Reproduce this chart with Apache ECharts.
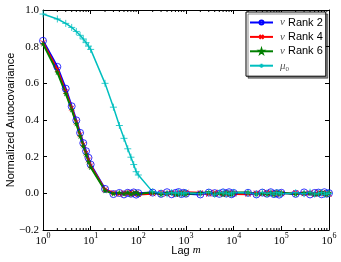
<!DOCTYPE html>
<html><head><meta charset="utf-8">
<script src="https://cdn.jsdelivr.net/npm/echarts@6/dist/echarts.min.js"></script>
<style>html,body{margin:0;padding:0;background:#fff}#c{width:341px;height:262px}</style>
</head><body><div id="c"></div>
<script>
const lags = [1,2,3,4,5,6,7,8,9,10,
  20,30,40,50,60,70,80,90,100,
  200,300,400,500,600,700,800,900,1000,
  2000,3000,4000,5000,6000,7000,8000,9000,10000,
  20000,30000,40000,50000,60000,70000,80000,90000,100000,
  200000,300000,400000,500000,600000,700000,800000,900000,1000000];
const nuRank2 = [0.832,0.690,0.571,0.475,0.398,0.330,0.274,0.230,0.194,0.157,
  0.024,-0.004,0.002,-0.006,0.003,-0.002,0.005,-0.007,0.001,
  0.004,-0.003,0.006,-0.005,0.002,0.007,-0.004,0.003,-0.002,
  -0.006,0.004,0.001,-0.003,0.005,-0.001,0.006,-0.005,0.002,
  0.003,-0.006,0.004,-0.002,0.006,-0.004,0.001,-0.007,0.003,
  -0.003,0.005,-0.006,0.002,0.004,-0.005,0.006,-0.002,0.001];
const nuRank4 = [0.822,0.675,0.555,0.465,0.388,0.320,0.265,0.220,0.182,0.150,
  0.020,0.003,-0.005,0.004,-0.003,0.006,-0.004,0.002,-0.006,
  -0.002,0.005,-0.004,0.003,-0.006,0.001,0.004,-0.005,0.006,
  0.003,-0.005,0.006,-0.002,0.001,-0.006,0.004,0.002,-0.003,
  -0.005,0.002,-0.003,0.006,-0.001,0.004,-0.006,0.005,-0.002,
  0.004,-0.002,0.003,-0.005,0.006,0.001,-0.004,0.003,-0.006];
const nuRank6 = [0.815,0.660,0.544,0.456,0.380,0.312,0.258,0.212,0.172,0.142,
  0.015,-0.002,0.004,-0.003,0.005,-0.005,0.002,0.006,-0.004,
  0.006,-0.006,0.002,0.004,-0.003,-0.005,0.003,0.001,-0.004,
  0.002,0.006,-0.004,0.003,-0.006,0.005,-0.002,-0.004,0.004,
  0.005,-0.003,0.001,-0.005,0.003,-0.006,0.006,-0.002,0.004,
  -0.005,0.003,0.001,-0.004,-0.002,0.006,0.002,-0.006,0.004];
const mu0 = [0.978,0.951,0.927,0.905,0.883,0.862,0.842,0.822,0.803,0.785,
  0.600,0.470,0.370,0.300,0.243,0.197,0.157,0.118,0.100,
  0.008,0.002,-0.003,0.004,-0.002,0.005,-0.004,0.001,0.003,
  -0.002,0.004,-0.005,0.002,0.006,-0.003,0.001,-0.004,0.005,
  0.002,-0.004,0.005,-0.001,0.003,-0.005,0.004,0.002,-0.003,
  0.003,-0.002,0.006,-0.004,0.001,0.004,-0.006,0.002,-0.001];
const yTicks = [-0.2,0.0,0.2,0.4,0.6,0.8,1.0];
const xMinorTicks = [];
[1,10,100,1000,10000,100000].forEach(d=>{for(let k=2;k<=9;k++) xMinorTicks.push(k*d);});
const seriesNames = ['nu2','nu4','nu6','mu0'];

const pair = arr => lags.map((l,i)=>[l,arr[i]]);
const chart = echarts.init(document.getElementById('c'), null, {renderer:'canvas'});
const serifFont = 'Liberation Serif';
const sansFont = 'Liberation Sans';
const crossPath = 'path://M0,0L10,10M10,0L0,10';
const plusPath = 'path://M5,0L5,10M0,5L10,5';
const starPath = 'path://M50,0L61,35L98,35L68,57L79,91L50,70L21,91L32,57L2,35L39,35Z';
const expLabel = v => { const e = Math.round(Math.log10(v)); return '{b|10}{s|' + e + '}'; };
const rich = {
  b:{fontFamily:serifFont,fontSize:11,color:'#000',lineHeight:15,verticalAlign:'bottom'},
  s:{fontFamily:serifFont,fontSize:8,color:'#000',lineHeight:15,verticalAlign:'top'}
};
const legendRich = {
  i:{fontFamily:serifFont,fontStyle:'italic',fontSize:11,color:'#555'},
  t:{fontFamily:sansFont,fontSize:11,color:'#000'},
  sub:{fontFamily:serifFont,fontSize:7,color:'#555',verticalAlign:'bottom',lineHeight:13}
};
const legendText = {nu2:'{i|ν} {t|Rank 2}', nu4:'{i|ν} {t|Rank 4}', nu6:'{i|ν} {t|Rank 6}', mu0:'{i|μ}{sub|0}'};
const noZero = {show:true,onZero:false,lineStyle:{color:'#000',width:1}};

const option = {
  animation:false,
  backgroundColor:'#fff',
  grid:{left:43,right:12,top:10,bottom:32,containLabel:false,outerBoundsMode:'none'},
  legend:{
    data:seriesNames, orient:'vertical', left:246, top:12,
    itemWidth:23, itemHeight:5, itemGap:1.4, padding:[4,3,4,3],
    borderColor:'#000', borderWidth:1, backgroundColor:'#fff',
    shadowColor:'rgba(0,0,0,0.45)', shadowOffsetX:2, shadowOffsetY:2, shadowBlur:0,
    formatter: n => legendText[n],
    textStyle:{rich:legendRich, fontSize:11, lineHeight:13, padding:[0,0,0,2]}
  },
  xAxis:[{
    type:'log', logBase:10, min:1, max:1000000,
    name:'Lag {m|m}', nameLocation:'middle', nameGap:15, nameMoveOverlap:false,
    nameTextStyle:{fontFamily:sansFont,fontSize:11,color:'#000',
      rich:{m:{fontFamily:serifFont,fontStyle:'italic',fontSize:11,color:'#000'}}},
    axisLine:noZero,
    axisTick:{inside:true,length:4,lineStyle:{color:'#000'}},
    axisLabel:{formatter:expLabel, rich:rich, margin:2},
    splitLine:{show:false}
  },{
    type:'log', logBase:10, min:1, max:1000000, position:'top',
    axisLine:noZero,
    axisTick:{inside:true,length:4,lineStyle:{color:'#000'}},
    axisLabel:{show:false}, splitLine:{show:false}
  }],
  yAxis:[{
    type:'value', min:-0.2, max:1.0, interval:0.2,
    name:'Normalized Autocovariance', nameLocation:'middle', nameGap:27, nameMoveOverlap:false,
    nameTextStyle:{fontFamily:sansFont,fontSize:11,color:'#000'},
    axisLine:noZero,
    axisTick:{show:true,inside:true,length:4,lineStyle:{color:'#000'}},
    axisLabel:{fontFamily:serifFont,fontSize:11,color:'#000',margin:4,
      formatter:v=>{const r=Math.round(v*10)/10; return (r<0?'\u2212':'')+Math.abs(r).toFixed(1);}},
    splitLine:{show:false}
  },{
    type:'value', min:-0.2, max:1.0, interval:0.2, position:'right',
    axisLine:noZero,
    axisTick:{show:true,inside:true,length:4,lineStyle:{color:'#000'}},
    axisLabel:{show:false}, splitLine:{show:false}
  }],
  series:[
    {name:'nu2',type:'line',data:pair(nuRank2),symbol:'circle',symbolSize:7,
     lineStyle:{color:'#0000ff',width:2},
     itemStyle:{color:'rgba(0,0,0,0)',borderColor:'#0000ff',borderWidth:0.8}},
    {name:'nu4',type:'line',data:pair(nuRank4),symbol:crossPath,symbolSize:5,
     lineStyle:{color:'#ff0000',width:2},
     itemStyle:{color:'rgba(0,0,0,0)',borderColor:'#ff0000',borderWidth:0.8}},
    {name:'nu6',type:'line',data:pair(nuRank6),symbol:starPath,symbolSize:5,
     lineStyle:{color:'#007f00',width:2},
     itemStyle:{color:'#007f00',borderColor:'#007f00',borderWidth:0.3}},
    {name:'mu0',type:'line',data:pair(mu0),symbol:plusPath,symbolSize:7,
     lineStyle:{color:'#00bfbf',width:1.5},
     itemStyle:{color:'rgba(0,0,0,0)',borderColor:'#00bfbf',borderWidth:0.8}},
    {name:'minor',type:'custom',clip:false,silent:true,
     data:xMinorTicks.map(v=>[v]),
     encode:{x:0},
     renderItem:(params,api)=>{
       const v = api.value(0);
       const pb = api.coord([v,-0.2]);
       const pt = api.coord([v,1.0]);
       return {type:'group',children:[
         {type:'line',shape:{x1:pb[0],y1:pb[1],x2:pb[0],y2:pb[1]-2},style:{stroke:'#000',lineWidth:1}},
         {type:'line',shape:{x1:pt[0],y1:pt[1],x2:pt[0],y2:pt[1]+2},style:{stroke:'#000',lineWidth:1}}
       ]};
     }}
  ]
};
chart.setOption(option);
</script>
</body></html>
